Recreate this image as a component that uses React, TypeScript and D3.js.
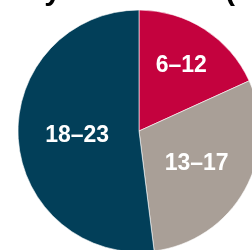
import React, { useEffect, useRef } from 'react';
import * as d3 from 'd3';

// age groups and their share (%)
const categories = ['6–12', '13–17', '18–23'];
const values = [18.2, 29.8, 52];
const colors = ['#c4023e', '#a99f97', '#023f59'];

const width = 252;
const height = 250;

const App = () => {
  const svgRef = useRef<SVGSVGElement | null>(null);

  useEffect(() => {
    const svg = d3.select(svgRef.current);
    svg.selectAll('*').remove();

    const cx = 139;
    const cy = 131;
    const radius = 121;
    // label distance from the centre, per slice
    const labelR = [78, 66, 62];

    const pie = d3.pie<number>().sort(null).value(d => d);
    const arcs = pie(values);
    const arc = d3.arc<d3.PieArcDatum<number>>().innerRadius(0).outerRadius(radius);

    const g = svg.append('g').attr('transform', `translate(${cx},${cy})`);

    g.selectAll('path')
      .data(arcs)
      .join('path')
      .attr('d', arc)
      .attr('fill', (d, i) => colors[i])
      .attr('stroke', '#fff')
      .attr('stroke-width', 0.6);

    g.selectAll('text.label')
      .data(arcs)
      .join('text')
      .attr('class', 'label')
      .attr('transform', (d, i) => {
        const a = (d.startAngle + d.endAngle) / 2;
        return `translate(${Math.sin(a) * labelR[i]},${-Math.cos(a) * labelR[i]})`;
      })
      .attr('text-anchor', 'middle')
      .attr('dy', '0.3em')
      .attr('fill', '#fff')
      .attr('font-family', 'Liberation Sans, Arial, sans-serif')
      .attr('font-weight', 'bold')
      .attr('font-size', 23)
      .text((d, i) => categories[i]);

    // title sits above the visible area, only descenders show
    const title = svg.append('text')
      .attr('y', 0)
      .attr('font-family', 'Liberation Sans, Arial, sans-serif')
      .attr('font-weight', 'bold')
      .attr('font-size', 30)
      .attr('fill', '#000');
    title.append('tspan').attr('x', 61).attr('text-anchor', 'end').text('y');
    title.append('tspan').attr('x', 225).attr('text-anchor', 'start').text('(');
  }, []);

  return (
    <div style={{ position: 'fixed', left: 0, top: 0 }}>
      <svg ref={svgRef} width={width} height={height} style={{ display: 'block' }} />
    </div>
  );
};

export default App;
